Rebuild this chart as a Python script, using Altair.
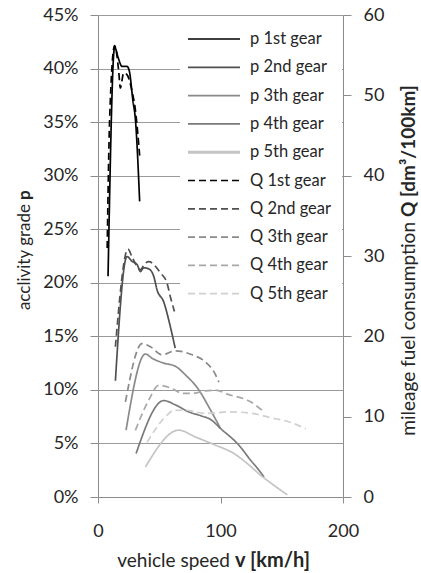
import altair as alt
import pandas as pd

# ---------------- data ----------------
v_p1 = [8.2, 13.6, 16.5, 19.6, 23.6, 25.5, 28.5, 30.5, 34.0]
p_p1 = [20.6, 42.0, 41.0, 40.2, 40.2, 39.8, 37.0, 35.3, 27.6]

v_p2 = [14.2, 23.7, 27.8, 31.9, 34.6, 37.3, 41.4, 45.5, 48.3, 53.7, 57.8, 63.0]
p_p2 = [10.85, 22.45, 22.0, 21.7, 21.05, 21.4, 21.3, 20.6, 19.3, 18.2, 16.5, 13.9]

v_p3 = [22.9, 38.7, 44.2, 53.7, 63.2, 71.4, 82.3, 90.5, 100.0]
p_p3 = [6.24, 13.35, 12.95, 12.5, 12.2, 11.4, 10.0, 8.4, 6.4]

v_p4 = [31.1, 53.7, 63.2, 74.1, 85.0, 91.9, 100.0, 115.0, 124.6, 131.4, 135.5]
p_p4 = [4.06, 9.0, 8.6, 7.95, 7.55, 7.24, 6.4, 4.84, 3.43, 2.5, 1.87]

v_p5 = [38.7, 66.0, 79.6, 95.9, 111.0, 121.9, 132.8, 143.6, 154.6]
p_p5 = [2.8, 6.24, 5.6, 4.84, 4.06, 3.12, 2.03, 1.09, 0.2]

v_Q1 = [7.5, 9.5, 13.6, 16.9, 18.2, 21.0, 23.5, 27.8, 30.5, 34.0]
Q_Q1 = [31.0, 47.0, 56.2, 53.0, 50.9, 52.8, 52.6, 50.5, 48.2, 42.5]

v_Q2 = [14.2, 24.5, 28.0, 34.6, 38.0, 41.4, 51.0, 56.4, 59.1, 62.4]
Q_Q2 = [18.7, 30.85, 29.8, 28.3, 29.0, 29.3, 27.9, 26.6, 24.9, 23.1]

v_Q3 = [22.4, 36.0, 42.8, 52.3, 63.2, 76.9, 87.8, 94.6, 98.7]
Q_Q3 = [11.85, 19.1, 18.7, 17.7, 18.2, 17.7, 16.8, 15.6, 14.3]

v_Q4 = [30.5, 41.4, 49.6, 60.5, 68.7, 76.9, 87.8, 96.0, 105.5, 124.6, 135.5]
Q_Q4 = [8.3, 12.06, 13.9, 13.5, 12.9, 12.9, 13.2, 13.3, 12.8, 11.85, 10.6]

v_Q5 = [40.0, 56.4, 62.0, 71.4, 87.8, 108.0, 130.0, 140.0, 155.0, 169.6]
Q_Q5 = [6.8, 10.2, 10.8, 10.8, 10.4, 10.6, 10.3, 9.9, 9.4, 8.5]

series_names = ["p1", "p2", "p3", "p4", "p5", "Q1", "Q2", "Q3", "Q4", "Q5"]
series_labels = ["p 1st gear", "p 2nd gear", "p 3th gear", "p 4th gear", "p 5th gear",
                 "Q 1st gear", "Q 2nd gear", "Q 3th gear", "Q 4th gear", "Q 5th gear"]
series_colors = ["#000000", "#505050", "#8a8a8a", "#7a7a7a", "#c4c4c4",
                 "#000000", "#505050", "#8a8a8a", "#a8a8a8", "#d0d0d0"]
series_widths = [1.7, 1.7, 1.7, 1.7, 3.0, 1.7, 1.7, 1.7, 1.7, 1.7]

x_ticks = [0, 100, 200]
p_ticks = list(range(0, 50, 5))
Q_ticks = list(range(0, 70, 10))

# ---------------- tables ----------------
p_rows = []
for name, vs, ys in [("p1", v_p1, p_p1), ("p2", v_p2, p_p2), ("p3", v_p3, p_p3),
                     ("p4", v_p4, p_p4), ("p5", v_p5, p_p5)]:
    for i, (v, y) in enumerate(zip(vs, ys)):
        p_rows.append({"series": name, "kind": "p", "v": v, "p": y, "i": i})
p_df = pd.DataFrame(p_rows)

Q_rows = []
for name, vs, ys in [("Q1", v_Q1, Q_Q1), ("Q2", v_Q2, Q_Q2), ("Q3", v_Q3, Q_Q3),
                     ("Q4", v_Q4, Q_Q4), ("Q5", v_Q5, Q_Q5)]:
    for i, (v, y) in enumerate(zip(vs, ys)):
        Q_rows.append({"series": name, "kind": "Q", "v": v, "Q": y, "i": i})
Q_df = pd.DataFrame(Q_rows)

FONT = "Lato"
TXT = "#262626"
AX = "#8c8c8c"
GRID = "#9a9a9a"

x_enc = alt.X("v:Q", scale=alt.Scale(domain=[0, 200], nice=False),
              axis=alt.Axis(values=x_ticks, grid=False, title=None, tickSize=6,
                            labelPadding=19, labelFontSize=18, labelFont=FONT,
                            labelColor=TXT, domainColor=AX, tickColor=AX,
                            labelFlush=False))

color_enc = alt.Color("series:N", scale=alt.Scale(domain=series_names, range=series_colors), legend=None)
width_enc = alt.StrokeWidth("series:N", scale=alt.Scale(domain=series_names, range=series_widths), legend=None)
dash_enc = alt.StrokeDash("kind:N", scale=alt.Scale(domain=["p", "Q"], range=[[1, 0], [7, 4]]), legend=None)

p_layer = alt.Chart(p_df).mark_line(strokeJoin="round", interpolate="monotone").encode(
    x=x_enc,
    y=alt.Y("p:Q", scale=alt.Scale(domain=[0, 45], nice=False),
            axis=alt.Axis(orient="left", values=p_ticks, labelExpr="datum.value + '%'",
                          grid=True, gridColor=GRID, tickSize=8, labelPadding=12,
                          title=None, labelFontSize=18, labelFont=FONT, labelColor=TXT,
                          domainColor=AX, tickColor=AX)),
    color=color_enc, strokeWidth=width_enc, strokeDash=dash_enc,
    order="i:Q",
)

Q_layer = alt.Chart(Q_df).mark_line(strokeJoin="round", interpolate="monotone").encode(
    x=x_enc,
    y=alt.Y("Q:Q", scale=alt.Scale(domain=[0, 60], nice=False),
            axis=alt.Axis(orient="right", values=Q_ticks, grid=False, tickSize=8,
                          labelPadding=12, title=None, labelFontSize=18, labelFont=FONT,
                          labelColor=TXT, domainColor=AX, tickColor=AX)),
    color=color_enc, strokeWidth=width_enc, strokeDash=dash_enc,
    order="i:Q",
)

one = pd.DataFrame({"a": [0]})

# legend box (white background hiding gridlines)
legend_layers = [
    alt.Chart(one).mark_rect(fill="white").encode(
        x=alt.value(82), x2=alt.value(244), y=alt.value(10), y2=alt.value(290))
]
row_y0, row_step = 24, 28.3
for k, (lab, col, wd) in enumerate(zip(series_labels, series_colors, series_widths)):
    yy = row_y0 + k * row_step
    dash = [1, 0] if lab.startswith("p") else [7, 4]
    legend_layers.append(
        alt.Chart(one).mark_rule(color=col, strokeWidth=wd, strokeDash=dash).encode(
            x=alt.value(90), x2=alt.value(142), y=alt.value(yy)))
    legend_layers.append(
        alt.Chart(one).mark_text(text=lab, align="left", baseline="middle", font=FONT,
                                 fontSize=16.5, color=TXT).encode(
            x=alt.value(152), y=alt.value(yy)))

# axis titles with mixed weights
def txt(s, x, y, align, bold=False, angle=0, size=19):
    kw = dict(text=s, align=align, baseline="middle", font=FONT, fontSize=size,
              color=TXT, fontWeight="bold" if bold else "normal")
    if angle:
        kw["angle"] = angle
    return alt.Chart(one).mark_text(**kw).encode(x=alt.value(x), y=alt.value(y))

title_layers = [
    txt("acclivity grade", -73, 189, "right", angle=270, size=17),
    txt("p", -73, 185, "left", bold=True, angle=270, size=17),
    txt("mileage fuel consumption", 311, 207, "right", angle=270),
    txt("Q [dm³/100km]", 311, 202, "left", bold=True, angle=270),
    txt("vehicle speed", 132, 546, "right"),
    txt("v [km/h]", 137, 546, "left", bold=True, size=20),
]

chart = alt.layer(p_layer, Q_layer, *legend_layers, *title_layers).resolve_scale(
    y="independent"
).properties(
    width=245, height=482,
    padding={"left": 98, "top": 15, "right": 78, "bottom": 76},
    autosize=alt.AutoSizeParams(type="none"),
    background="white",
).configure_view(stroke=None)

chart.save("out.html", embed_options={"renderer": "svg", "actions": False})
